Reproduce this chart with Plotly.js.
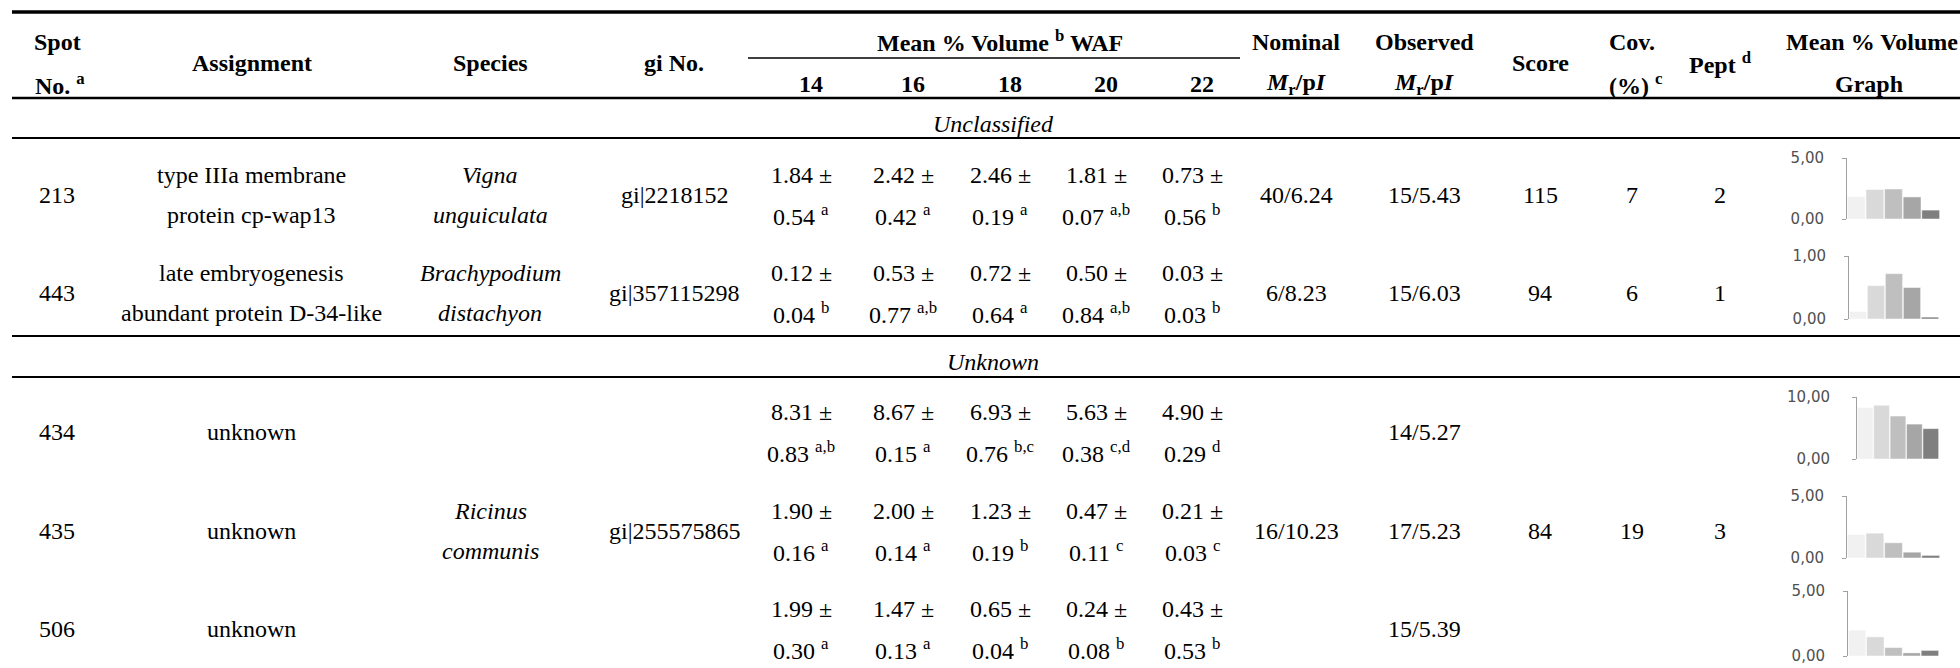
<!DOCTYPE html>
<html>
<head>
<meta charset="utf-8">
<script src="https://cdn.plot.ly/plotly-3.0.1.min.js"></script>
<style>html,body{margin:0;padding:0;background:#fff;}#chart{width:1960px;height:668px;}</style>
</head>
<body>
<div id="chart"></div>
<script>
// ---------------- data ----------------
const wafLevels = ['14', '16', '18', '20', '22'];
const spots = ['213', '443', '434', '435', '506'];
const means213 = [1.84, 2.42, 2.46, 1.81, 0.73];
const sd213 = [0.54, 0.42, 0.19, 0.07, 0.56];
const let213 = ['a', 'a', 'a', 'a,b', 'b'];
const means443 = [0.12, 0.53, 0.72, 0.50, 0.03];
const sd443 = [0.04, 0.77, 0.64, 0.84, 0.03];
const let443 = ['b', 'a,b', 'a', 'a,b', 'b'];
const means434 = [8.31, 8.67, 6.93, 5.63, 4.90];
const sd434 = [0.83, 0.15, 0.76, 0.38, 0.29];
const let434 = ['a,b', 'a', 'b,c', 'c,d', 'd'];
const means435 = [1.90, 2.00, 1.23, 0.47, 0.21];
const sd435 = [0.16, 0.14, 0.19, 0.11, 0.03];
const let435 = ['a', 'a', 'b', 'c', 'c'];
const means506 = [1.99, 1.47, 0.65, 0.24, 0.43];
const sd506 = [0.30, 0.13, 0.04, 0.08, 0.53];
const let506 = ['a', 'a', 'b', 'b', 'b'];
const graphMax = [5, 1, 10, 5, 5];
const observed = ['15/5.43', '15/6.03', '14/5.27', '17/5.23', '15/5.39'];
const assignment1 = ['type IIIa membrane', 'late embryogenesis', 'unknown', 'unknown', 'unknown'];
const assignment2 = ['protein cp-wap13', 'abundant protein D-34-like', '', '', ''];
const species1 = ['Vigna', 'Brachypodium', 'Ricinus'];
const species2 = ['unguiculata', 'distachyon', 'communis'];
const giNo = ['gi|2218152', 'gi|357115298', 'gi|255575865'];
const nominal = ['40/6.24', '6/8.23', '16/10.23'];
const scores = ['115', '94', '84'];
const coverage = ['7', '6', '19'];
const peptides = ['2', '1', '3'];
const barColors = ['#f1f1f1', '#d9d9d9', '#bfbfbf', '#a6a6a6', '#7f7f7f'];

const allMeans = [means213, means443, means434, means435, means506];
const allSd = [sd213, sd443, sd434, sd435, sd506];
const allLet = [let213, let443, let434, let435, let506];

// ---------------- layout geometry (pixels) ----------------
const W = 1960, H = 668;
const X = p => p / W;
const Y = p => 1 - p / H;
const rowCenters = [195, 293, 432, 531, 629];
const half = 20;
const wafX = [801, 903, 1000, 1096, 1192];
const col = {spot: 57, assign: 252, species: 490, gi: 674, nominal: 1296, observed: 1424, score: 1540, cov: 1632, pept: 1720, graph: 1872};
// group rows: [firstRow, lastRow] for merged cells
const groups = [[0, 0], [1, 1], [2, 4]];
const chartBoxes = [
  {x0: 1847, x1: 1940, y0: 158, y1: 219},
  {x0: 1849, x1: 1939, y0: 256, y1: 319},
  {x0: 1857, x1: 1939, y0: 397, y1: 459},
  {x0: 1847, x1: 1940, y0: 496, y1: 558},
  {x0: 1848, x1: 1939, y0: 591, y1: 656}
];

const serif = 'Liberation Serif';
const annotations = [];
function ann(x, y, text, o) {
  o = o || {};
  const f = {family: serif, size: o.size || 24, color: '#000'};
  if (o.bold) f.weight = 'bold';
  annotations.push({
    xref: 'paper', yref: 'paper', x: X(x), y: Y(y), text: text, showarrow: false,
    xanchor: o.xanchor || 'center', yanchor: 'middle', font: f
  });
}
const hb = {bold: true, size: 24};
// header
const h1 = 42, h2 = 84, hm = 63;
ann(col.spot, h1, 'Spot', hb);
ann(col.spot + 3, h2, 'No. <sup>a</sup>', hb);
ann(col.assign, hm, 'Assignment', hb);
ann(col.species, hm, 'Species', hb);
ann(col.gi, hm, 'gi No.', hb);
ann(1000, 41, 'Mean % Volume <sup>b</sup> WAF', hb);
wafLevels.forEach((w, i) => ann(wafX[i] + 10, h2, w, hb));
ann(col.nominal, h1, 'Nominal', hb);
ann(col.nominal, h2, '<i>M</i><sub>r</sub>/p<i>I</i>', hb);
ann(col.observed, h1, 'Observed', hb);
ann(col.observed, h2, '<i>M</i><sub>r</sub>/p<i>I</i>', hb);
ann(col.score, hm, 'Score', hb);
ann(col.cov, h1, 'Cov.', hb);
ann(col.cov + 4, h2, '(%) <sup>c</sup>', hb);
ann(col.pept, hm, 'Pept <sup>d</sup>', hb);
ann(col.graph, h1, 'Mean % Volume', hb);
ann(col.graph - 3, h2, 'Graph', hb);
// section titles
ann(993, 124, '<i>Unclassified</i>');
ann(993, 362, '<i>Unknown</i>');

// body rows
spots.forEach((s, r) => {
  const yc = rowCenters[r];
  ann(col.spot, yc, s);
  if (assignment2[r]) {
    ann(col.assign, yc - half, assignment1[r]);
    ann(col.assign, yc + half, assignment2[r]);
  } else {
    ann(col.assign, yc, assignment1[r]);
  }
  ann(col.observed, yc, observed[r]);
  allMeans[r].forEach((m, i) => {
    ann(wafX[i], yc - half, m.toFixed(2) + ' ±');
    ann(wafX[i], yc + half, allSd[r][i].toFixed(2) + ' <sup>' + allLet[r][i] + '</sup>');
  });
});
groups.forEach((g, k) => {
  const yc = (rowCenters[g[0]] + rowCenters[g[1]]) / 2;
  ann(col.species, yc - half, '<i>' + species1[k] + '</i>');
  ann(col.species, yc + half, '<i>' + species2[k] + '</i>');
  ann(col.gi, yc, giNo[k]);
  ann(col.nominal, yc, nominal[k]);
  ann(col.score, yc, scores[k]);
  ann(col.cov, yc, coverage[k]);
  ann(col.pept, yc, peptides[k]);
});

// rules
const shapes = [];
function rule(y, w) {
  shapes.push({type: 'line', xref: 'paper', yref: 'paper', x0: X(12), x1: X(1960), y0: Y(y), y1: Y(y), line: {color: '#000', width: w}});
}
rule(12, 3.5);
rule(98, 2.5);
rule(138, 2);
rule(336, 2);
rule(377, 2);
shapes.push({type: 'line', xref: 'paper', yref: 'paper', x0: X(748), x1: X(1240), y0: Y(58), y1: Y(58), line: {color: '#000', width: 1.5}});

// mini bar charts
const data = [];
const layout = {
  width: W, height: H, margin: {l: 0, r: 0, t: 0, b: 0},
  paper_bgcolor: '#fff', plot_bgcolor: 'rgba(0,0,0,0)',
  font: {family: serif},
  showlegend: false, bargap: 0.04,
  annotations: annotations, shapes: shapes
};
const standoffs = [15, 15, 19, 15, 15];
allMeans.forEach((vals, k) => {
  const sfx = k === 0 ? '' : String(k + 1);
  data.push({
    type: 'bar', x: wafLevels, y: vals, xaxis: 'x' + sfx, yaxis: 'y' + sfx,
    marker: {color: barColors, line: {color: '#fff', width: 0.5}}, hoverinfo: 'skip'
  });
  const b = chartBoxes[k];
  layout['xaxis' + sfx] = {
    domain: [X(b.x0), X(b.x1)], anchor: 'y' + sfx, showticklabels: false, showgrid: false,
    zeroline: false, showline: false, ticks: '', fixedrange: true
  };
  const mx = graphMax[k];
  layout['yaxis' + sfx] = {
    domain: [Y(b.y1), Y(b.y0)], anchor: 'x' + sfx, range: [0, mx], showgrid: false, zeroline: false,
    showline: true, linecolor: '#a0a0a0', linewidth: 1,
    ticks: 'outside', ticklen: 4, tickcolor: '#a0a0a0', tickwidth: 1,
    tickvals: [0, mx], ticktext: ['0,00', mx.toFixed(2).replace('.', ',')],
    ticklabelstandoff: standoffs[k],
    tickfont: {family: 'DejaVu Sans', size: 15, color: '#505050'}, fixedrange: true
  };
});

Plotly.newPlot('chart', data, layout, {staticPlot: true, displayModeBar: false});
</script>
</body>
</html>
